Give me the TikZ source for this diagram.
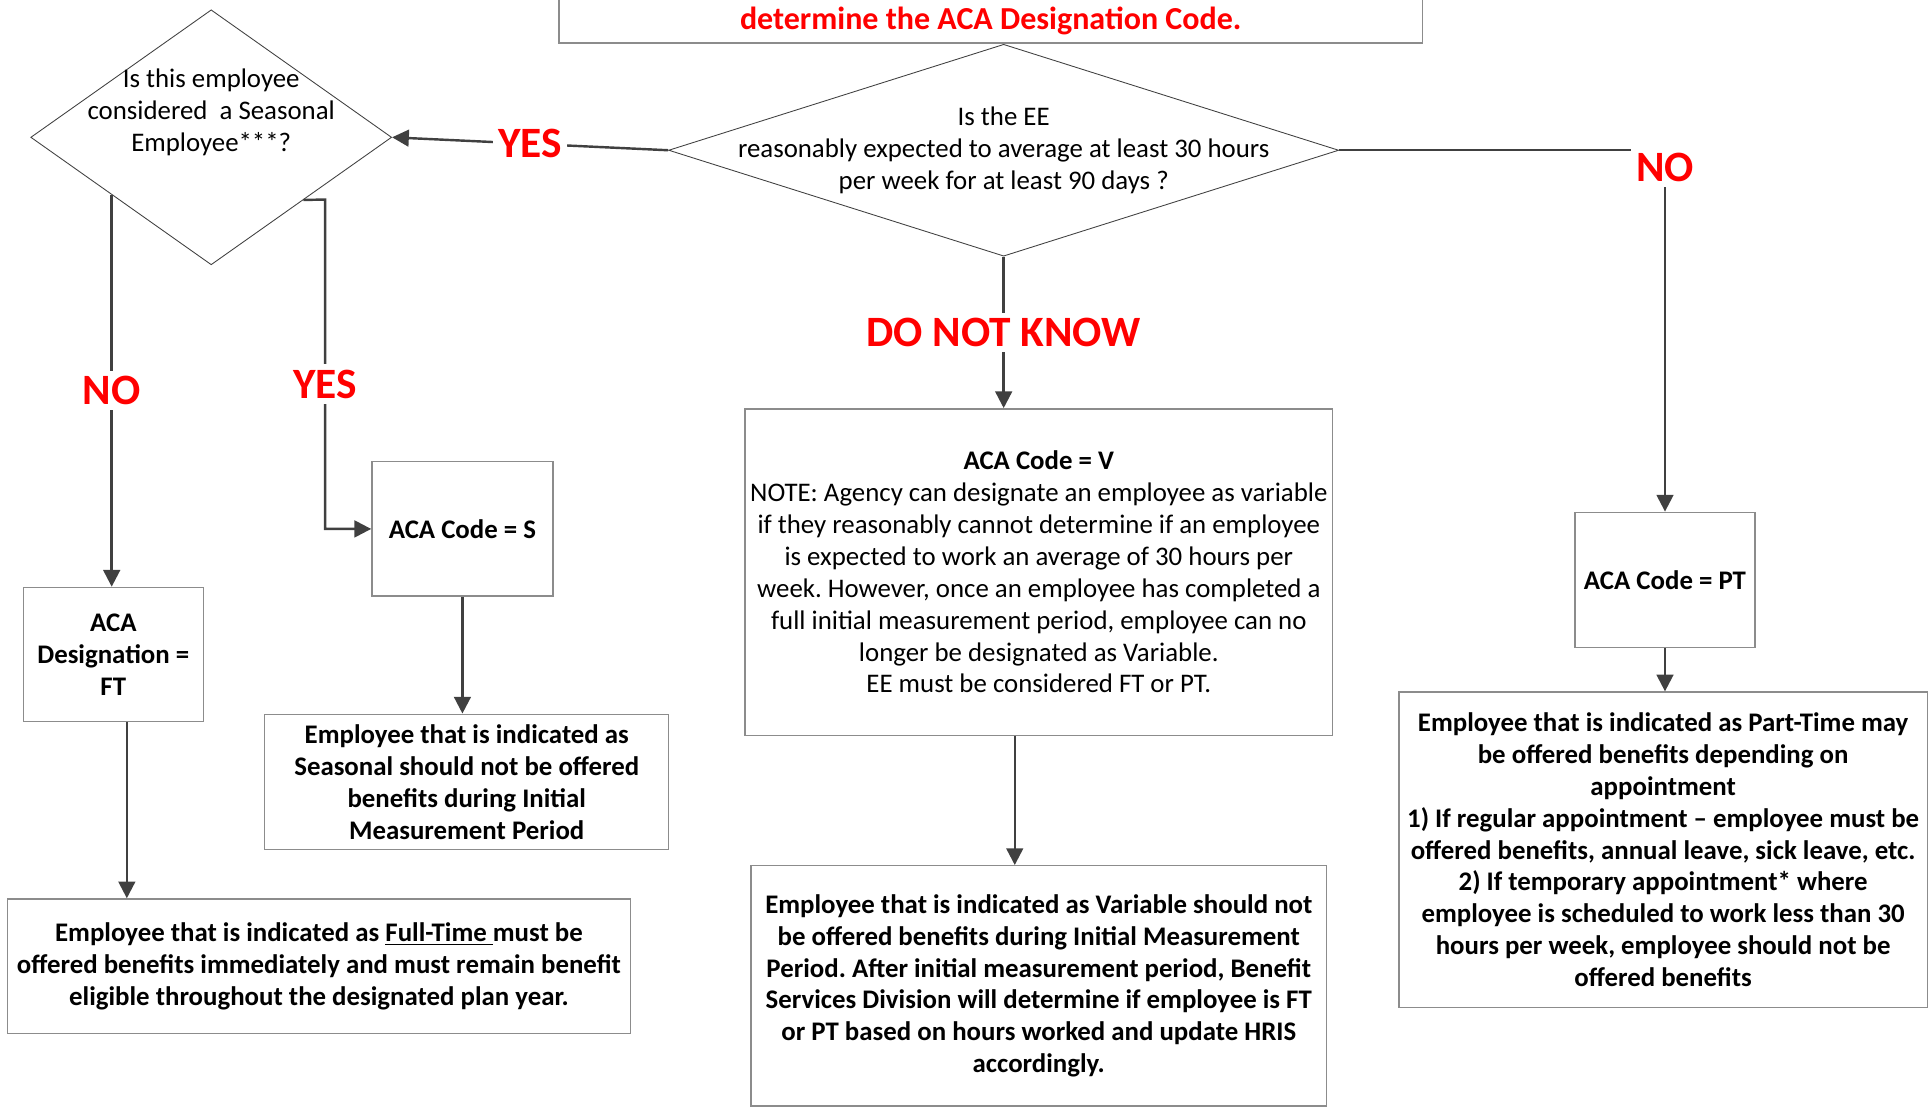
\documentclass[tikz,border=0pt]{standalone}
\usepackage{fontspec}
\setmainfont{Carlito}
\usepackage{tikz}
\usetikzlibrary{positioning,calc,shapes,arrows.meta}
\frenchspacing
\definecolor{linegray}{HTML}{404040}
\definecolor{boxgray}{HTML}{8C8C8C}
\definecolor{flowred}{HTML}{FF0000}
\tikzstyle{box}= [rectangle, draw=boxgray, line width=0.8pt, align=center, inner sep=2pt, font=\fontsize{15.5}{18.4}\selectfont]
\tikzstyle{boldbox}= [box, font=\bfseries\fontsize{15.5}{18.4}\selectfont]
\tikzstyle{dec}= [diamond, draw=linegray, line width=0.5pt, inner sep=0pt]
\tikzstyle{dectext}= [align=center, font=\fontsize{15.5}{18.4}\selectfont]
\tikzstyle{arr}= [draw=linegray, line width=1.4pt, -{Triangle[length=0.34cm,width=0.34cm]}]
\tikzstyle{lbl}= [text=flowred, fill=white, inner sep=3pt, font=\bfseries\fontsize{25}{30}\selectfont]

\begin{document}
\begin{tikzpicture}[x=0.025cm, y=-0.025cm]
\useasboundingbox (0,0) rectangle (1568,900);
\node[box, minimum width=17.525cm, minimum height=0.9cm, text=flowred, font=\bfseries\fontsize{18.5}{22}\selectfont] (title) at (804.5,17) {determine the ACA Designation Code.};

\node[dec, minimum width=13.6cm, minimum height=4.3cm, label={[dectext]center:{Is the EE\\reasonably expected to average at least 30 hours\\per week for at least 90 days ?}}] (main) at (815,122) {};
\node[dec, minimum width=7.325cm, minimum height=5.175cm, label={[dectext, yshift=0.5cm]center:{Is this employee\\considered\ \ a Seasonal\\Employee***?}}] (seas) at (171.5,111.5) {};

\node[boldbox, minimum width=3.65cm, minimum height=2.725cm] (ft) at (92,531.5) {ACA\\Designation =\\FT};
\node[boldbox, minimum width=12.65cm, minimum height=2.725cm] (ftd) at (259,784.5) {Employee that is indicated as \underline{Full-Time\ }must be\\offered benefits immediately and must remain benefit\\eligible throughout the designated plan year.};
\node[boldbox, minimum width=3.675cm, minimum height=2.725cm] (sbox) at (375.5,429.5) {ACA Code = S};
\node[boldbox, minimum width=8.2cm, minimum height=2.75cm] (sdesc) at (379,635) {Employee that is indicated as\\Seasonal should not be offered\\benefits during Initial\\Measurement Period};
\node[box, minimum width=11.925cm, minimum height=6.625cm] (vbox) at (843.5,464.5) {\textbf{ACA Code = V}\\NOTE: Agency can designate an employee as variable\\if they reasonably cannot determine if an employee\\is expected to work an average of 30 hours per\\week. However, once an employee has completed a\\full initial measurement period, employee can no\\longer be designated as Variable.\\EE must be considered FT or PT.};
\node[boldbox, minimum width=11.675cm, minimum height=4.875cm] (vdesc) at (843.5,800.5) {Employee that is indicated as Variable should not\\be offered benefits during Initial Measurement\\Period. After initial measurement period, Benefit\\Services Division will determine if employee is FT\\or PT based on hours worked and update HRIS\\accordingly.};
\node[boldbox, minimum width=3.65cm, minimum height=2.75cm] (pt) at (1352,471) {ACA Code = PT};
\node[boldbox, minimum width=10.725cm, minimum height=6.4cm] (ptd) at (1350.5,690) {Employee that is indicated as Part-Time may\\be offered benefits depending on\\appointment\\1) If regular appointment -- employee must be\\offered benefits, annual leave, sick leave, etc.\\2) If temporary appointment* where\\employee is scheduled to work less than 30\\hours per week, employee should not be\\offered benefits};

% answers of the first question
\draw[arr] (main.west) -- node[lbl]{YES} (seas.east);
\draw[arr] (main.east) -| node[lbl, pos=0.5, anchor=north, yshift=2pt]{NO} (pt.north);
\draw[arr] (main.south) -- node[lbl]{DO NOT KNOW} (main.south |- vbox.north);

% seasonal question
\coordinate (nostart) at ($(seas.west)!0.45!(seas.south)$);
\draw[arr] (nostart) -- node[lbl]{NO} (nostart |- ft.north);
\coordinate (yesstart) at ($(seas.east)!0.49!(seas.south)$);
\coordinate (yesbend) at (264,162);
\draw[arr] (yesstart) -- (yesbend) -- node[lbl, pos=0.56]{YES} (yesbend |- sbox.west) -- (sbox.west);

% codes to descriptions
\coordinate (ftout) at ($(ft.south)+(11,0)$);
\draw[arr] (ftout) -- (ftout |- ftd.north);
\draw[arr] (sbox.south) -- (sbox.south |- sdesc.north);
\coordinate (vout) at ($(vbox.south)+(-19.5,0)$);
\draw[arr] (vout) -- (vout |- vdesc.north);
\draw[arr] (pt.south) -- (pt.south |- ptd.north);
\end{tikzpicture}
\end{document}
